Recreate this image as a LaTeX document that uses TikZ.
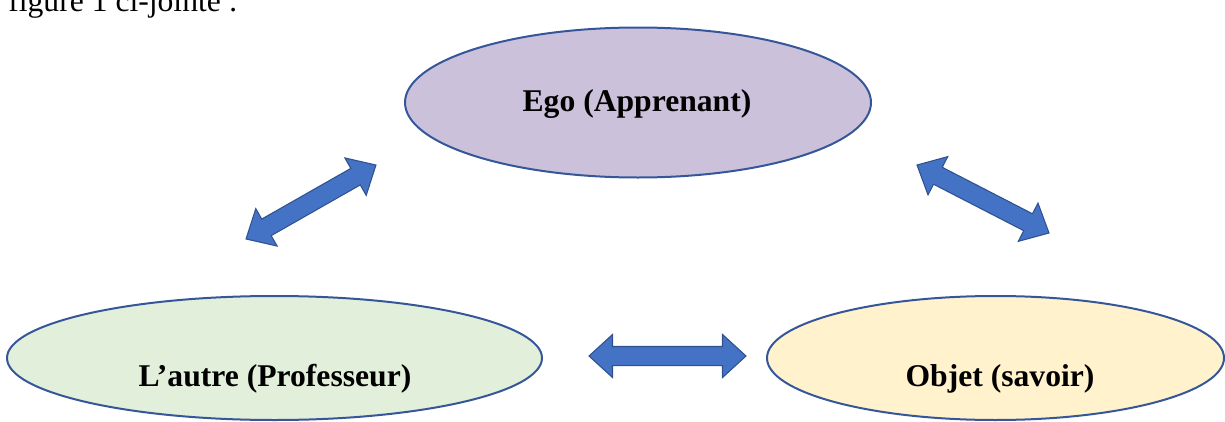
\documentclass[tikz,border=0pt]{standalone}
\usepackage{fontspec}
\setmainfont{Liberation Serif}
\usepackage{tikz}
\usetikzlibrary{shapes.geometric,shapes.arrows,positioning}
\usepackage{xcolor}

\definecolor{egofill}{HTML}{CCC1DA}
\definecolor{autrefill}{HTML}{E2EFDA}
\definecolor{objetfill}{HTML}{FFF2CC}
\definecolor{poleline}{HTML}{35579A}
\definecolor{arrowfill}{HTML}{4472C4}
\definecolor{arrowline}{HTML}{2F528F}

\begin{document}
\begin{tikzpicture}[
    pole/.style={ellipse, draw=poleline, line width=0.04cm, inner sep=0pt},
    lbl/.style={font=\fontsize{18}{21.6}\selectfont\bfseries, anchor=base, inner sep=0pt},
    blockarrow/.style={double arrow, fill=arrowfill, draw=arrowline, line width=0.6pt,
        inner xsep=0pt, inner ysep=0.18cm, minimum width=0.84cm,
        double arrow head extend=0.24cm, double arrow tip angle=85}
  ]
    \useasboundingbox (0, 0) rectangle (24.5, 8.42);

    \coordinate (EgoC) at (12.76, 6.37);
    \coordinate (AutreC) at (5.49, 1.26);
    \coordinate (ObjetC) at (19.91, 1.26);

    % text above the figure
    \node [anchor=base west, inner sep=0pt, font=\fontsize{18}{21.6}\selectfont] (caption) at (0.16, 8.18) {figure 1 ci-jointe :};

    % the three poles
    \node [pole, fill=egofill, minimum width=9.32cm, minimum height=3cm] (ego) at (EgoC) {};
    \node [pole, fill=autrefill, minimum width=10.7cm, minimum height=2.48cm] (autre) at (AutreC) {};
    \node [pole, fill=objetfill, minimum width=9.14cm, minimum height=2.48cm] (objet) at (ObjetC) {};

    \node [lbl] (egoText) at (12.74, 6.2) {Ego (Apprenant)};
    \node [lbl] (autreText) at (5.5, 0.7) {L’autre (Professeur)};
    \node [lbl] (objetText) at (20.0, 0.7) {Objet (savoir)};

    % relations
    \node [blockarrow, minimum height=2.99cm, rotate=29.65] (arrEgoAutre) at (6.22, 4.38) {};
    \node [blockarrow, minimum height=2.97cm, rotate=-27.25] (arrEgoObjet) at (19.66, 4.44) {};
    \node [blockarrow, minimum height=3.14cm] (arrAutreObjet) at (13.35, 1.30) {};

  \end{tikzpicture}
\end{document}
